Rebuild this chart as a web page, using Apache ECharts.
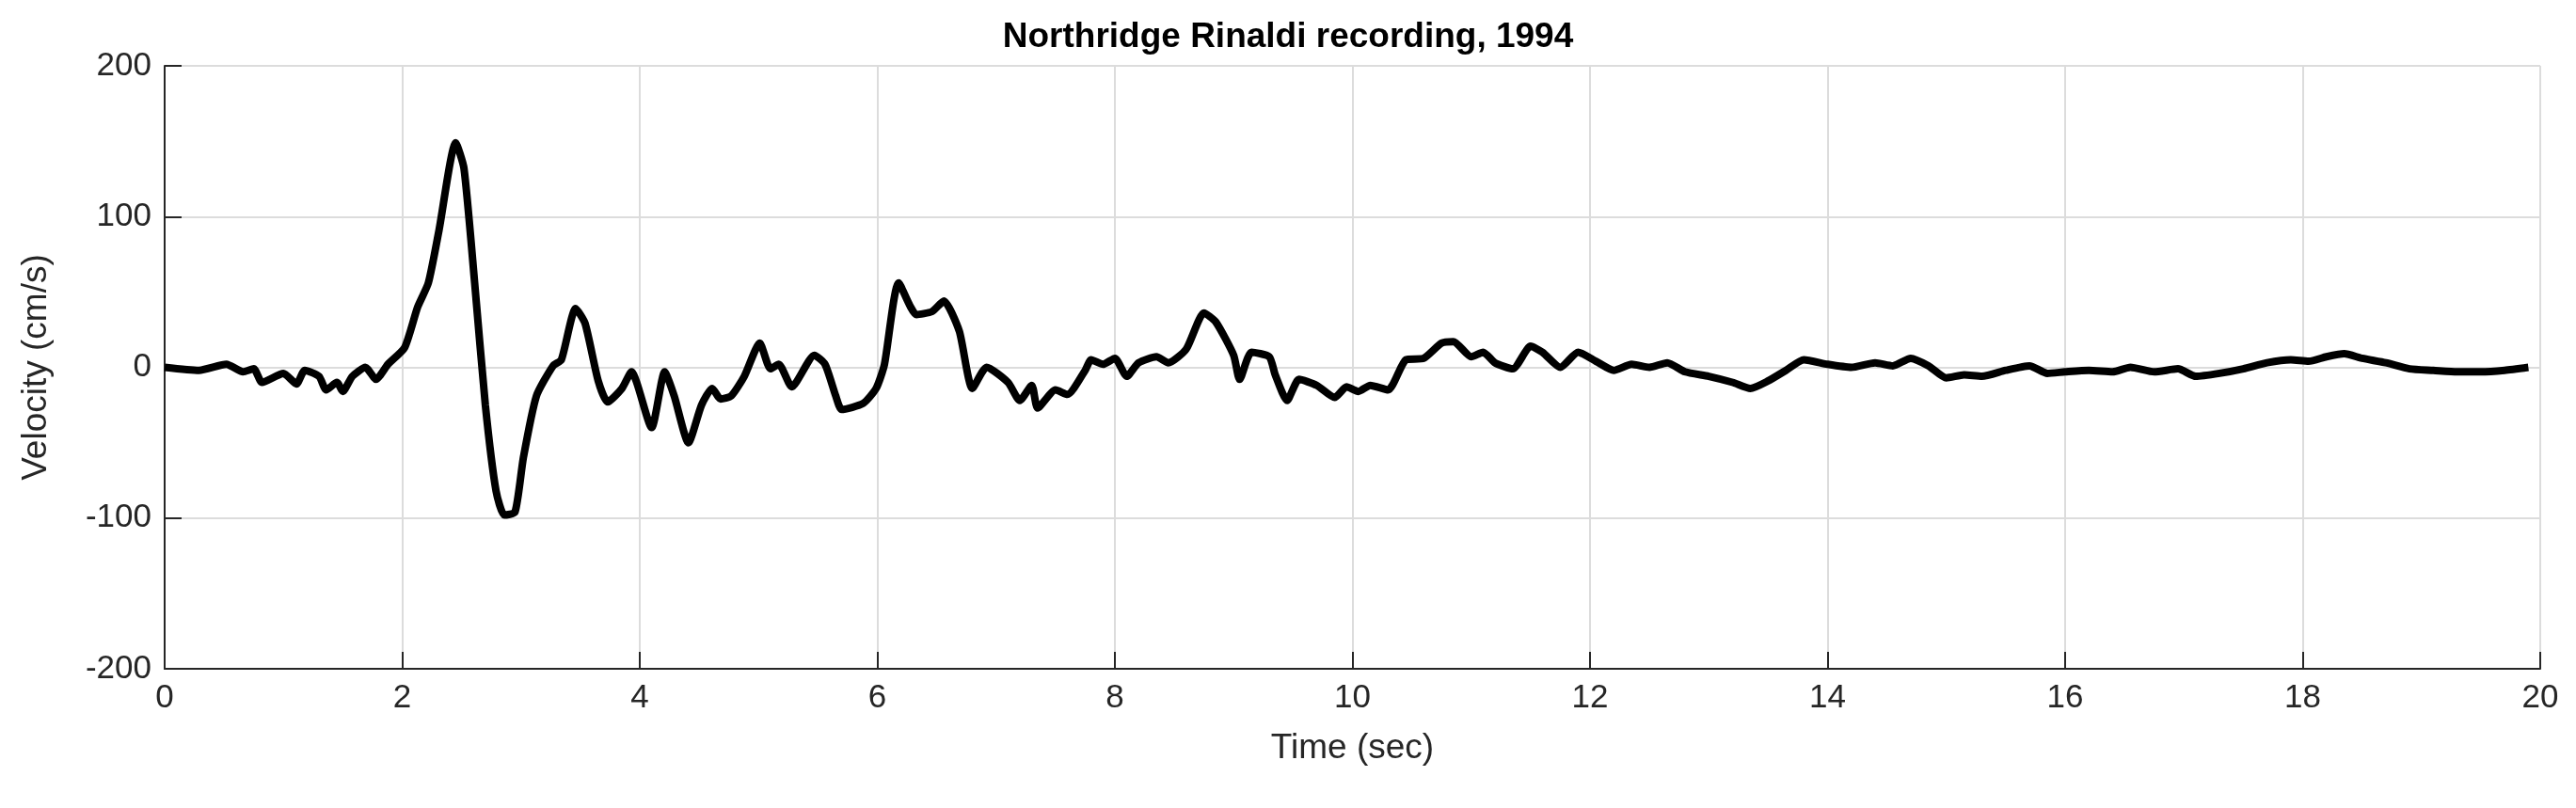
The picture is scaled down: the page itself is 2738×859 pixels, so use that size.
<!DOCTYPE html>
<html><head><meta charset="utf-8">
<script src="https://cdn.jsdelivr.net/npm/echarts@6/dist/echarts.min.js"></script>
<style>html,body{margin:0;padding:0;background:#fff}#c{width:2738px;height:859px}</style>
</head><body><div id="c"></div>
<script>
const timeSec = [0,0.29,0.52,0.66,0.75,0.82,1.0,1.11,1.18,1.3,1.36,1.45,1.5,1.58,1.69,1.78,1.88,2.02,2.13,2.22,2.31,2.45,2.52,2.61,2.70,2.79,2.86,2.95,3.02,3.13,3.27,3.34,3.46,3.54,3.65,3.73,3.85,3.93,4.10,4.21,4.29,4.41,4.52,4.61,4.68,4.77,4.88,5.01,5.10,5.17,5.28,5.47,5.56,5.65,5.70,5.88,5.99,6.06,6.18,6.33,6.46,6.56,6.69,6.80,6.92,7.1,7.2,7.3,7.35,7.5,7.6,7.75,7.8,7.9,8.0,8.1,8.2,8.35,8.45,8.6,8.75,8.85,9.0,9.05,9.15,9.3,9.35,9.45,9.55,9.7,9.85,9.95,10.05,10.15,10.3,10.45,10.6,10.75,10.85,11.0,11.1,11.2,11.35,11.5,11.6,11.75,11.9,12.05,12.2,12.35,12.5,12.65,12.8,13.0,13.2,13.35,13.5,13.65,13.8,14.0,14.2,14.4,14.55,14.7,14.85,15.0,15.15,15.3,15.5,15.7,15.85,16.0,16.2,16.4,16.55,16.75,16.95,17.1,17.3,17.5,17.7,17.9,18.05,18.2,18.35,18.5,18.7,18.9,19.1,19.3,19.5,19.7,19.9];
const velocity = [0,-2,2,-3,-1,-10,-4,-11,-2,-6,-15,-10,-16,-6,0,-8,2,13,40,56,91,149,132,56,-25,-82,-98,-96,-60,-19,1,5,39,29,-9,-23,-14,-3,-40,-3,-19,-50,-25,-14,-21,-19,-6,16,-1,2,-13,8,2,-19,-28,-24,-14,2,56,35,37,44,24,-14,0,-10,-22,-12,-27,-15,-18,-2,5,2,6,-6,3,7,3,12,36,30,8,-8,10,7,-5,-22,-8,-12,-20,-13,-16,-12,-15,5,6,16,17,7,10,3,-1,14,10,0,10,4,-2,2,0,3,-3,-6,-10,-14,-9,-2,5,2,0,3,1,6,1,-7,-5,-6,-2,1,-4,-3,-2,-3,0,-3,-1,-6,-4,-1,3,5,4,7,9,6,3,-1,-2,-3,-3,-2,0];
const titleText = 'Northridge Rinaldi recording, 1994';
const chart = echarts.init(document.getElementById('c'));
const font = 'Liberation Sans, Arial, sans-serif';
chart.setOption({
  animation:false,
  title:{text:titleText,left:'center',top:16,textStyle:{fontFamily:font,fontSize:37,fontWeight:'bold',color:'#000'}},
  grid:{left:175,right:38,top:70,bottom:148},
  xAxis:{type:'value',min:0,max:20,interval:2,name:'Time (sec)',nameLocation:'middle',nameGap:66,
    nameTextStyle:{fontFamily:font,fontSize:37,color:'#262626'},
    axisLine:{onZero:false,lineStyle:{color:'#262626',width:2}},axisTick:{inside:true,length:18,lineStyle:{color:'#262626',width:2}},
    axisLabel:{fontFamily:font,fontSize:35,color:'#262626',margin:14},
    splitLine:{show:true,lineStyle:{color:'#dcdcdc',width:2}}},
  yAxis:{type:'value',min:-200,max:200,interval:100,name:'Velocity (cm/s)',nameLocation:'middle',nameGap:118,
    nameTextStyle:{fontFamily:font,fontSize:37,color:'#262626'},
    axisLine:{show:true,onZero:false,lineStyle:{color:'#262626',width:2}},axisTick:{show:true,inside:true,length:18,lineStyle:{color:'#262626',width:2}},
    axisLabel:{fontFamily:font,fontSize:35,color:'#262626',margin:14},
    splitLine:{show:true,lineStyle:{color:'#dcdcdc',width:2}}},
  series:[{type:'line',data:timeSec.map((t,i)=>[t,velocity[i]]),showSymbol:false,smooth:0.2,
    lineStyle:{color:'#000',width:8},z:5}]
});
</script></body></html>
